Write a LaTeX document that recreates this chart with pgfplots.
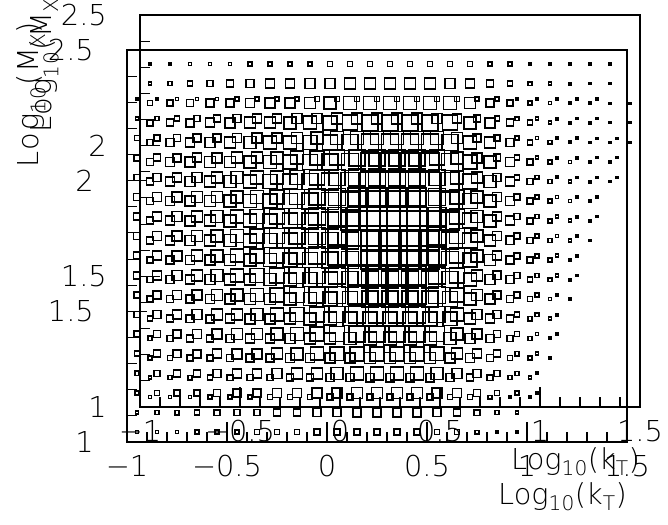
\documentclass[border=0pt]{standalone}
\usepackage{pgfplots}
\pgfplotsset{compat=1.18}
\usepackage{pgfplotstable}
\usepackage{fontspec}
\setmainfont{DejaVu Sans ExtraLight}
\newcommand\pawfont{\fontsize{28.8bp}{34bp}\selectfont}

% 2D histogram: bin centre x = log10(kT), y = log10(MX), s = box side (bp)
\pgfplotstableread[row sep=\\]{
x y s\\
-0.95 1.0375 3\\ -0.85 1.0375 3\\ -0.75 1.0375 3\\ -0.65 1.0375 4\\ -0.55 1.0375 4\\ -0.45 1.0375 4\\ -0.35 1.0375 5\\ -0.25 1.0375 5\\ -0.15 1.0375 5\\ -0.05 1.0375 6\\ 0.05 1.0375 6\\ 0.15 1.0375 6\\ 0.25 1.0375 6\\ 0.35 1.0375 6\\ 0.45 1.0375 6\\ 0.55 1.0375 5\\ 0.65 1.0375 5\\ 0.75 1.0375 3.5\\ 0.85 1.0375 2.5\\ 0.95 1.0375 2\\
-0.95 1.1125 3\\ -0.85 1.1125 4\\ -0.75 1.1125 4.5\\ -0.65 1.1125 5\\ -0.55 1.1125 5.5\\ -0.45 1.1125 6\\ -0.35 1.1125 6\\ -0.25 1.1125 7\\ -0.15 1.1125 7\\ -0.05 1.1125 8\\ 0.05 1.1125 8\\ 0.15 1.1125 8.5\\ 0.25 1.1125 8.5\\ 0.35 1.1125 8.5\\ 0.45 1.1125 8.5\\ 0.55 1.1125 8\\ 0.65 1.1125 7\\ 0.75 1.1125 5.5\\ 0.85 1.1125 4\\ 0.95 1.1125 3\\
-0.95 1.1875 4\\ -0.85 1.1875 5\\ -0.75 1.1875 6\\ -0.65 1.1875 6.5\\ -0.55 1.1875 7\\ -0.45 1.1875 7.5\\ -0.35 1.1875 8\\ -0.25 1.1875 9\\ -0.15 1.1875 9\\ -0.05 1.1875 10\\ 0.05 1.1875 10\\ 0.15 1.1875 11\\ 0.25 1.1875 11\\ 0.35 1.1875 11\\ 0.45 1.1875 11\\ 0.55 1.1875 10\\ 0.65 1.1875 9\\ 0.75 1.1875 7\\ 0.85 1.1875 5\\ 0.95 1.1875 3.5\\ 1.05 1.1875 2.5\\
-0.95 1.2625 4.5\\ -0.85 1.2625 6\\ -0.75 1.2625 7\\ -0.65 1.2625 7\\ -0.55 1.2625 8\\ -0.45 1.2625 9\\ -0.35 1.2625 9\\ -0.25 1.2625 10\\ -0.15 1.2625 11\\ -0.05 1.2625 11\\ 0.05 1.2625 12\\ 0.15 1.2625 13\\ 0.25 1.2625 13\\ 0.35 1.2625 13\\ 0.45 1.2625 13\\ 0.55 1.2625 12\\ 0.65 1.2625 10\\ 0.75 1.2625 8\\ 0.85 1.2625 6\\ 0.95 1.2625 4\\ 1.05 1.2625 2.5\\
-0.95 1.3375 5\\ -0.85 1.3375 7\\ -0.75 1.3375 7.5\\ -0.65 1.3375 8\\ -0.55 1.3375 9\\ -0.45 1.3375 10\\ -0.35 1.3375 10\\ -0.25 1.3375 11\\ -0.15 1.3375 12\\ -0.05 1.3375 13\\ 0.05 1.3375 13.5\\ 0.15 1.3375 14\\ 0.25 1.3375 14\\ 0.35 1.3375 14\\ 0.45 1.3375 14\\ 0.55 1.3375 13.5\\ 0.65 1.3375 11\\ 0.75 1.3375 9\\ 0.85 1.3375 7\\ 0.95 1.3375 4.5\\ 1.05 1.3375 3\\
-0.95 1.4125 6\\ -0.85 1.4125 7\\ -0.75 1.4125 8\\ -0.65 1.4125 9\\ -0.55 1.4125 10\\ -0.45 1.4125 11\\ -0.35 1.4125 11\\ -0.25 1.4125 12\\ -0.15 1.4125 13\\ -0.05 1.4125 14\\ 0.05 1.4125 15\\ 0.15 1.4125 16\\ 0.25 1.4125 16\\ 0.35 1.4125 16\\ 0.45 1.4125 16\\ 0.55 1.4125 15\\ 0.65 1.4125 12\\ 0.75 1.4125 10\\ 0.85 1.4125 7\\ 0.95 1.4125 5\\ 1.05 1.4125 3\\ 1.15 1.4125 2\\
-0.95 1.4875 6\\ -0.85 1.4875 8\\ -0.75 1.4875 9\\ -0.65 1.4875 10\\ -0.55 1.4875 11\\ -0.45 1.4875 11\\ -0.35 1.4875 12\\ -0.25 1.4875 13\\ -0.15 1.4875 14\\ -0.05 1.4875 15\\ 0.05 1.4875 16\\ 0.15 1.4875 17\\ 0.25 1.4875 17\\ 0.35 1.4875 17\\ 0.45 1.4875 17\\ 0.55 1.4875 16\\ 0.65 1.4875 13\\ 0.75 1.4875 10\\ 0.85 1.4875 8\\ 0.95 1.4875 5\\ 1.05 1.4875 3.5\\ 1.15 1.4875 2.5\\
-0.95 1.5625 6.5\\ -0.85 1.5625 8\\ -0.75 1.5625 9\\ -0.65 1.5625 10\\ -0.55 1.5625 11\\ -0.45 1.5625 12\\ -0.35 1.5625 13\\ -0.25 1.5625 14\\ -0.15 1.5625 15\\ -0.05 1.5625 16\\ 0.05 1.5625 17\\ 0.15 1.5625 18\\ 0.25 1.5625 18\\ 0.35 1.5625 18\\ 0.45 1.5625 18\\ 0.55 1.5625 17\\ 0.65 1.5625 14\\ 0.75 1.5625 11\\ 0.85 1.5625 8\\ 0.95 1.5625 5.5\\ 1.05 1.5625 3.5\\ 1.15 1.5625 2.5\\
-0.95 1.6375 7\\ -0.85 1.6375 9\\ -0.75 1.6375 10\\ -0.65 1.6375 11\\ -0.55 1.6375 12\\ -0.45 1.6375 13\\ -0.35 1.6375 14\\ -0.25 1.6375 15\\ -0.15 1.6375 16\\ -0.05 1.6375 16\\ 0.05 1.6375 17\\ 0.15 1.6375 18\\ 0.25 1.6375 18\\ 0.35 1.6375 18\\ 0.45 1.6375 18\\ 0.55 1.6375 17\\ 0.65 1.6375 15\\ 0.75 1.6375 11\\ 0.85 1.6375 8.5\\ 0.95 1.6375 6\\ 1.05 1.6375 4\\ 1.15 1.6375 3\\ 1.25 1.6375 2\\
-0.95 1.7125 7\\ -0.85 1.7125 9\\ -0.75 1.7125 10\\ -0.65 1.7125 11\\ -0.55 1.7125 12\\ -0.45 1.7125 13\\ -0.35 1.7125 14\\ -0.25 1.7125 15\\ -0.15 1.7125 16\\ -0.05 1.7125 17\\ 0.05 1.7125 18\\ 0.15 1.7125 19\\ 0.25 1.7125 19\\ 0.35 1.7125 19\\ 0.45 1.7125 19\\ 0.55 1.7125 18\\ 0.65 1.7125 15\\ 0.75 1.7125 12\\ 0.85 1.7125 9\\ 0.95 1.7125 6\\ 1.05 1.7125 4\\ 1.15 1.7125 3\\ 1.25 1.7125 2\\
-0.95 1.7875 7\\ -0.85 1.7875 9\\ -0.75 1.7875 10\\ -0.65 1.7875 11\\ -0.55 1.7875 12\\ -0.45 1.7875 13\\ -0.35 1.7875 14\\ -0.25 1.7875 15\\ -0.15 1.7875 16\\ -0.05 1.7875 17\\ 0.05 1.7875 18\\ 0.15 1.7875 19\\ 0.25 1.7875 19\\ 0.35 1.7875 19\\ 0.45 1.7875 19\\ 0.55 1.7875 18\\ 0.65 1.7875 15\\ 0.75 1.7875 12\\ 0.85 1.7875 9\\ 0.95 1.7875 6\\ 1.05 1.7875 4\\ 1.15 1.7875 3\\ 1.25 1.7875 2.5\\
-0.95 1.8625 7\\ -0.85 1.8625 9\\ -0.75 1.8625 10\\ -0.65 1.8625 11\\ -0.55 1.8625 12\\ -0.45 1.8625 13\\ -0.35 1.8625 14\\ -0.25 1.8625 15\\ -0.15 1.8625 16\\ -0.05 1.8625 17\\ 0.05 1.8625 18\\ 0.15 1.8625 19\\ 0.25 1.8625 19\\ 0.35 1.8625 19\\ 0.45 1.8625 19\\ 0.55 1.8625 18\\ 0.65 1.8625 15\\ 0.75 1.8625 12\\ 0.85 1.8625 9\\ 0.95 1.8625 6\\ 1.05 1.8625 4\\ 1.15 1.8625 3\\ 1.25 1.8625 2.5\\ 1.35 1.8625 2\\
-0.95 1.9375 7\\ -0.85 1.9375 9\\ -0.75 1.9375 10\\ -0.65 1.9375 11\\ -0.55 1.9375 11\\ -0.45 1.9375 12\\ -0.35 1.9375 13\\ -0.25 1.9375 14\\ -0.15 1.9375 15\\ -0.05 1.9375 16\\ 0.05 1.9375 17\\ 0.15 1.9375 18\\ 0.25 1.9375 18\\ 0.35 1.9375 18\\ 0.45 1.9375 18\\ 0.55 1.9375 17\\ 0.65 1.9375 14\\ 0.75 1.9375 12\\ 0.85 1.9375 9\\ 0.95 1.9375 6\\ 1.05 1.9375 4\\ 1.15 1.9375 3\\ 1.25 1.9375 2.5\\ 1.35 1.9375 2\\
-0.95 2.0125 6\\ -0.85 2.0125 8\\ -0.75 2.0125 9\\ -0.65 2.0125 10\\ -0.55 2.0125 11\\ -0.45 2.0125 12\\ -0.35 2.0125 13\\ -0.25 2.0125 13\\ -0.15 2.0125 14\\ -0.05 2.0125 15\\ 0.05 2.0125 16\\ 0.15 2.0125 17\\ 0.25 2.0125 17\\ 0.35 2.0125 17\\ 0.45 2.0125 17\\ 0.55 2.0125 16\\ 0.65 2.0125 13\\ 0.75 2.0125 11\\ 0.85 2.0125 8\\ 0.95 2.0125 5\\ 1.05 2.0125 3.5\\ 1.15 2.0125 2.5\\ 1.25 2.0125 2\\ 1.35 2.0125 2\\ 1.45 2.0125 1.5\\
-0.95 2.0875 6\\ -0.85 2.0875 7\\ -0.75 2.0875 8\\ -0.65 2.0875 9\\ -0.55 2.0875 10\\ -0.45 2.0875 11\\ -0.35 2.0875 11\\ -0.25 2.0875 12\\ -0.15 2.0875 13\\ -0.05 2.0875 14\\ 0.05 2.0875 15\\ 0.15 2.0875 16\\ 0.25 2.0875 16\\ 0.35 2.0875 16\\ 0.45 2.0875 16\\ 0.55 2.0875 15\\ 0.65 2.0875 12\\ 0.75 2.0875 10\\ 0.85 2.0875 7\\ 0.95 2.0875 5\\ 1.05 2.0875 3\\ 1.15 2.0875 2.5\\ 1.25 2.0875 2\\ 1.35 2.0875 1.5\\ 1.45 2.0875 1.5\\
-0.95 2.1625 5\\ -0.85 2.1625 6\\ -0.75 2.1625 7\\ -0.65 2.1625 8\\ -0.55 2.1625 8\\ -0.45 2.1625 9\\ -0.35 2.1625 10\\ -0.25 2.1625 10\\ -0.15 2.1625 11\\ -0.05 2.1625 12\\ 0.05 2.1625 13\\ 0.15 2.1625 13\\ 0.25 2.1625 13\\ 0.35 2.1625 13\\ 0.45 2.1625 13\\ 0.55 2.1625 13\\ 0.65 2.1625 11\\ 0.75 2.1625 8\\ 0.85 2.1625 6\\ 0.95 2.1625 4\\ 1.05 2.1625 3\\ 1.15 2.1625 2\\ 1.25 2.1625 2\\ 1.35 2.1625 1.5\\ 1.45 2.1625 1.5\\
-0.95 2.2375 3\\ -0.85 2.2375 4\\ -0.75 2.2375 5\\ -0.65 2.2375 6\\ -0.55 2.2375 7\\ -0.45 2.2375 8\\ -0.35 2.2375 9\\ -0.25 2.2375 9\\ -0.15 2.2375 10\\ -0.05 2.2375 10\\ 0.05 2.2375 11\\ 0.15 2.2375 11\\ 0.25 2.2375 11\\ 0.35 2.2375 11\\ 0.45 2.2375 11\\ 0.55 2.2375 10\\ 0.65 2.2375 9\\ 0.75 2.2375 7\\ 0.85 2.2375 5\\ 0.95 2.2375 3.5\\ 1.05 2.2375 3\\ 1.15 2.2375 2.5\\ 1.25 2.2375 2\\ 1.35 2.2375 2\\
-0.95 2.3125 2\\ -0.85 2.3125 2.5\\ -0.75 2.3125 3\\ -0.65 2.3125 3\\ -0.55 2.3125 3\\ -0.45 2.3125 3.5\\ -0.35 2.3125 4\\ -0.25 2.3125 4\\ -0.15 2.3125 4\\ -0.05 2.3125 5\\ 0.05 2.3125 5\\ 0.15 2.3125 5\\ 0.25 2.3125 5\\ 0.35 2.3125 5\\ 0.45 2.3125 5\\ 0.55 2.3125 5\\ 0.65 2.3125 5\\ 0.75 2.3125 4\\ 0.85 2.3125 3.5\\ 0.95 2.3125 2.5\\ 1.05 2.3125 2\\ 1.15 2.3125 2\\ 1.25 2.3125 2\\ 1.35 2.3125 1.5\\
}\boxdata

\pgfplotsset{
  pawbox/.style={
    scale only axis, width=500bp, height=392bp,
    anchor=south west,
    xmin=-1, xmax=1.5, ymin=1, ymax=2.5,
    axis line style={line width=1.4bp, black},
    tick style={line width=1.1bp, black},
    tick align=inside, xtick pos=left, ytick pos=left,
    major tick length=20bp, minor tick length=10bp,
    xtick={-1,-0.5,0,0.5,1,1.5},
    xticklabels={−1,−0.5,0,0.5,1,1.5},
    ytick={1,1.5,2,2.5},
    yticklabels={1,1.5,2,2.5},
    minor x tick num=4, minor y tick num=4,
    xticklabel style={font=\pawfont, inner sep=0pt, anchor=north, yshift=-13bp},
    yticklabel style={font=\pawfont, inner sep=0pt, anchor=east, xshift=-33bp},
    xlabel={Log\textsubscript{10}(k\textsubscript{T})},
    ylabel={Log\textsubscript{10}(M\textsubscript{X})},
    every axis x label/.style={at={(axis description cs:1,0)}, yshift=-62bp, anchor=base east, inner sep=0pt, font=\pawfont},
    every axis y label/.style={at={(axis description cs:0,1)}, xshift=-88bp, yshift=28bp, rotate=90, anchor=base east, inner sep=0pt, font=\pawfont\addfontfeature{LetterSpace=7}},
  },
  boxes/.style={
    scatter, only marks, mark=square,
    scatter/use mapped color={draw=black, fill=none},
    visualization depends on={\thisrow{s}/2 \as \hs},
    scatter/@pre marker code/.append style={/tikz/mark size=\hs bp},
    mark options={line width=1.6bp},
  },
}

\begin{document}
\begin{tikzpicture}
\useasboundingbox (0,0) rectangle (668bp,525bp);
% upper (shifted) frame
\begin{axis}[pawbox, at={(140bp,118bp)}]
\addplot[boxes] table[x=x, y=y, meta=s] {\boxdata};
\end{axis}
% lower frame
\begin{axis}[pawbox, at={(127bp,83bp)}]
\addplot[boxes] table[x=x, y=y, meta=s] {\boxdata};
\end{axis}
\end{tikzpicture}
\end{document}
